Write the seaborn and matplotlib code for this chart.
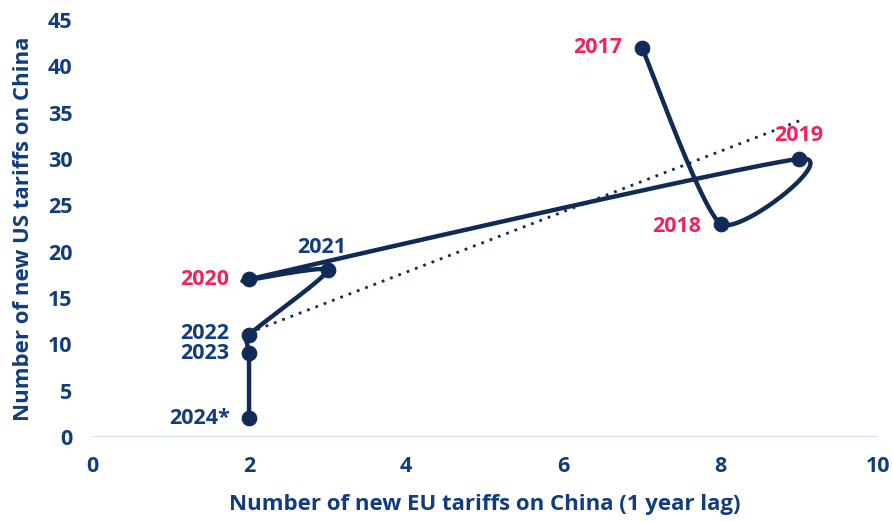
import numpy as np
import pandas as pd
import seaborn as sns
import matplotlib.pyplot as plt

years = ["2017", "2018", "2019", "2020", "2021", "2022", "2023", "2024*"]
eu_tariffs = [7, 8, 9, 2, 3, 2, 2, 2]
us_tariffs = [42, 23, 30, 17, 18, 11, 9, 2]
label_colors = ["#f0245a", "#f0245a", "#f0245a", "#f0245a", "#123d7d", "#123d7d", "#123d7d", "#123d7d"]
x_ticks = [0, 2, 4, 6, 8, 10]
y_ticks = [0, 5, 10, 15, 20, 25, 30, 35, 40, 45]

df = pd.DataFrame({"year": years, "eu": eu_tariffs, "us": us_tariffs})

navy = "#122b56"
text_navy = "#123d7d"

sns.set_style("white")
plt.rcParams["font.family"] = ["Open Sans", "DejaVu Sans"]

fig = plt.figure(figsize=(8.92, 5.22), dpi=100)
ax = fig.add_axes([0.103, 0.163, 0.881, 0.799])


def smooth_path(px, py, k=0.12, cap=0.45, n=50, sx=78.6, sy=9.27):
    # smoothed line: bezier control points from neighbours, capped by segment length
    p = np.column_stack([np.array(px) * sx, np.array(py) * sy]).astype(float)
    m = len(p)
    out = []

    def ctrl(vec, seg):
        v = k * vec
        L = np.linalg.norm(v)
        lim = cap * seg
        return v * (lim / L) if L > lim else v

    for i in range(m - 1):
        p1, p2 = p[i], p[i + 1]
        seg = np.linalg.norm(p2 - p1)
        t1 = p[i + 1] - p[i - 1] if i > 0 else p[i + 1] - p[i]
        t2 = p[i + 2] - p[i] if i + 2 < m else p[i + 1] - p[i]
        c1 = p1 + ctrl(t1, seg)
        c2 = p2 - ctrl(t2, seg)
        t = np.linspace(0, 1, n)[:, None]
        b = (1 - t) ** 3 * p1 + 3 * (1 - t) ** 2 * t * c1 + 3 * (1 - t) * t ** 2 * c2 + t ** 3 * p2
        out.append(b)
    out = np.vstack(out)
    return out[:, 0] / sx, out[:, 1] / sy


cx, cy = smooth_path(eu_tariffs, us_tariffs)
ax.plot(cx, cy, color=navy, lw=3.2, solid_capstyle="round", zorder=3)

sns.regplot(data=df, x="eu", y="us", ax=ax, scatter=False, ci=None, truncate=True,
            line_kws={"color": navy, "lw": 2, "linestyle": (0, (1, 2.2))})
sns.scatterplot(data=df, x="eu", y="us", ax=ax, color=navy, s=110, edgecolor=navy, zorder=4)

offsets = {
    "2017": (-14, 0, "right", "center"),
    "2018": (-14, -2, "right", "center"),
    "2019": (0, 17, "center", "center"),
    "2020": (-14, 0, "right", "center"),
    "2021": (-4, 16, "center", "center"),
    "2022": (-14, 1, "right", "center"),
    "2023": (-14, 0, "right", "center"),
    "2024*": (-14, 0, "right", "center"),
}
for yr, xv, yv, c in zip(years, eu_tariffs, us_tariffs, label_colors):
    dx, dy, ha, va = offsets[yr]
    ax.annotate(yr, (xv, yv), xytext=(dx, dy), textcoords="offset points",
                ha=ha, va=va, color=c, fontsize=15.5, fontweight="bold")

ax.set_xlim(0, 10)
ax.set_ylim(0, 45)
ax.set_xticks(x_ticks)
ax.set_yticks(y_ticks)
ax.axhline(0, color="#cfe1f7", lw=1.5, zorder=1)
for s in ax.spines.values():
    s.set_visible(False)
ax.tick_params(axis="both", length=0, labelsize=15.5, labelcolor=text_navy, pad=14)
for lab in ax.get_xticklabels() + ax.get_yticklabels():
    lab.set_fontweight("bold")
ax.set_xlabel("Number of new EU tariffs on China (1 year lag)", fontsize=16,
              fontweight="bold", color=text_navy, labelpad=12)
ax.set_ylabel("Number of new US tariffs on China", fontsize=16,
              fontweight="bold", color=text_navy, labelpad=10)

fig.savefig("out.png", dpi=100)
